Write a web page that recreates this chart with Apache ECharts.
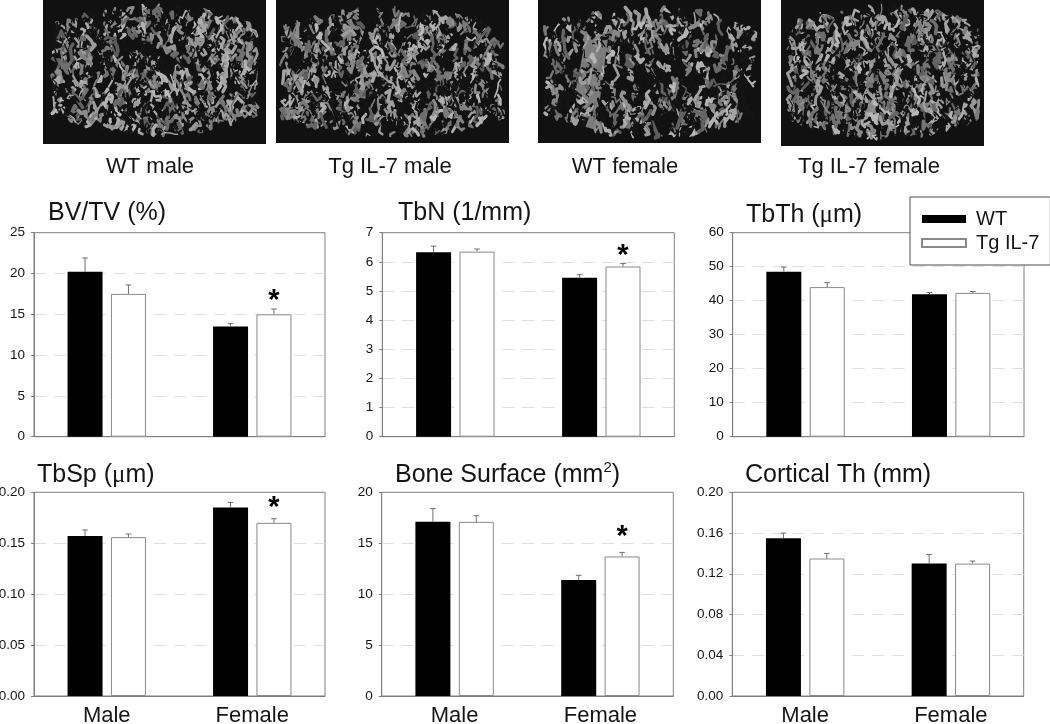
<!DOCTYPE html>
<html>
<head>
<meta charset="utf-8">
<style>html,body{margin:0;padding:0;background:#fff}#c{width:1050px;height:724px}</style>
<script src="https://cdn.jsdelivr.net/npm/echarts@6/dist/echarts.min.js"></script>
</head>
<body>
<div id="c"></div>
<script>
// ---- data ----
const categories = ['Male', 'Female'];
const seriesNames = ['WT', 'Tg IL-7'];

const bvtvWT = [20.2, 13.5],    bvtvWTErr = [21.9, 13.85];
const bvtvTg = [17.5, 15.0],    bvtvTgErr = [18.6, 15.65];
const tbnWT = [6.33, 5.45],     tbnWTErr = [6.54, 5.56];
const tbnTg = [6.35, 5.84],     tbnTgErr = [6.44, 5.94];
const tbthWT = [48.5, 41.9],    tbthWTErr = [49.9, 42.4];
const tbthTg = [44.0, 42.3],    tbthTgErr = [45.3, 42.7];
const tbspWT = [0.157, 0.185],  tbspWTErr = [0.163, 0.190];
const tbspTg = [0.156, 0.170],  tbspTgErr = [0.159, 0.174];
const bsWT = [17.1, 11.4],      bsWTErr = [18.4, 11.85];
const bsTg = [17.1, 13.7],      bsTgErr = [17.7, 14.1];
const ctWT = [0.155, 0.130],    ctWTErr = [0.160, 0.139];
const ctTg = [0.135, 0.130],    ctTgErr = [0.140, 0.1325];

const panelTitles = ['BV/TV (%)', 'TbN (1/mm)', 'TbTh ({mu|\u03bc}m)', 'TbSp ({mu|\u03bc}m)', 'Bone Surface (mm{sup|2})', 'Cortical Th (mm)'];
const photoLabels = ['WT male', 'Tg IL-7 male', 'WT female', 'Tg IL-7 female'];

const panels = [
  {title: panelTitles[0], wt: bvtvWT, wtE: bvtvWTErr, tg: bvtvTg, tgE: bvtvTgErr, max: 25, step: 5, dec: 0, star: 17.1, box: [34, 232.7, 291, 204], tx: 48, ty: 213},
  {title: panelTitles[1], wt: tbnWT, wtE: tbnWTErr, tg: tbnTg, tgE: tbnTgErr, max: 7, step: 1, dec: 0, star: 6.35, box: [382.3, 232.7, 292, 204], tx: 398, ty: 213},
  {title: panelTitles[2], wt: tbthWT, wtE: tbthWTErr, tg: tbthTg, tgE: tbthTgErr, max: 60, step: 10, dec: 0, star: null, box: [732.7, 232.7, 291.3, 204], tx: 746, ty: 215},
  {title: panelTitles[3], wt: tbspWT, wtE: tbspWTErr, tg: tbspTg, tgE: tbspTgErr, max: 0.2, step: 0.05, dec: 2, star: 0.1885, box: [34, 492.3, 291, 203.7], tx: 37, ty: 475},
  {title: panelTitles[4], wt: bsWT, wtE: bsWTErr, tg: bsTg, tgE: bsTgErr, max: 20, step: 5, dec: 0, star: 16.0, box: [381.7, 492.3, 291.6, 203.7], tx: 395, ty: 475},
  {title: panelTitles[5], wt: ctWT, wtE: ctWTErr, tg: ctTg, tgE: ctTgErr, max: 0.2, step: 0.04, dec: 2, star: null, box: [732.3, 492.3, 291.4, 203.7], tx: 745, ty: 475}
];

// ---- layout / style ----
const FONT = '"Liberation Sans", Arial, sans-serif';
const BAR_W = 35, BAR_SHIFT = 21.7;
const AXIS = '#7f7f7f', TXT = '#151515';

// illustrative micro-CT picture: a stand-in for the photographs of the source
function boneTexture(w, h, blob, seed) {
  const cv = document.createElement('canvas');
  cv.width = w; cv.height = h;
  const g = cv.getContext('2d');
  g.fillStyle = '#111111'; g.fillRect(0, 0, w, h);
  let s = seed;
  const rnd = () => (s = (s * 1664525 + 1013904223) % 4294967296) / 4294967296;
  g.lineCap = 'round'; g.lineJoin = 'round';
  // barrel outline: nearly straight sides, arched top and bottom
  const inside = (x, y) => {
    const dx = Math.abs(x - blob.cx) / blob.rx;
    const edge = blob.ry * (1 - 0.3 * dx * dx);
    return dx < 1 && Math.abs(y - blob.cy) < edge;
  };
  if (blob.slab) {
    const sl = blob.slab;
    g.fillStyle = '#7d7d7d';
    g.beginPath(); g.moveTo(sl[0] + 14, sl[1]); g.lineTo(sl[0] + sl[2] + 6, sl[1] + 2);
    g.lineTo(sl[0] + sl[2] - 6, sl[1] + sl[3]); g.lineTo(sl[0] - 2, sl[1] + sl[3] - 8); g.closePath(); g.fill();
  }
  const total = blob.sparse ? 800 : 1150;
  for (let i = 0; i < total; i++) {
    let x = blob.cx + (rnd() * 2 - 1) * blob.rx, y = blob.cy + (rnd() * 2 - 1) * blob.ry;
    if (!inside(x, y)) continue;
    const v = rnd();
    const dark = v < 0.5;
    const shade = dark ? 20 : Math.round(90 + rnd() * 95);
    g.strokeStyle = 'rgb(' + shade + ',' + shade + ',' + shade + ')';
    g.lineWidth = dark ? 1 + rnd() * 2 : 1.2 + rnd() * 2.6;
    g.beginPath(); g.moveTo(x, y);
    const n = 3 + Math.floor(rnd() * 3);
    for (let k = 0; k < n; k++) {
      x += (rnd() - 0.5) * 9; y += (rnd() - 0.4) * 13;
      if (!inside(x, y)) break;
      g.lineTo(x, y);
    }
    g.stroke();
  }
  g.filter = 'blur(0.5px)';
  g.drawImage(cv, 0, 0);
  g.filter = 'none';
  return cv;
}

const photos = [
  {x: 43, w: 223, h: 144, cx: 112, cy: 70, rx: 103, ry: 66, seed: 11, lx: 150},
  {x: 276, w: 233, h: 143, cx: 116, cy: 72, rx: 112, ry: 66, seed: 23, lx: 390},
  {x: 538, w: 223, h: 143, cx: 112, cy: 72, rx: 106, ry: 66, seed: 37, lx: 625, slab: [34, 36, 30, 94], sparse: true},
  {x: 781, w: 203, h: 146, cx: 102, cy: 72, rx: 96, ry: 68, seed: 53, lx: 869}
];

const graphics = [];
photos.forEach((p, i) => {
  graphics.push({type: 'image', x: p.x, y: 0, silent: true,
    style: {image: boneTexture(p.w, p.h, p, p.seed), x: 0, y: 0, width: p.w, height: p.h}});
  graphics.push({type: 'text', x: p.lx, y: 167, silent: true,
    style: {text: photoLabels[i], font: '22px ' + FONT, fill: TXT, textAlign: 'center', textVerticalAlign: 'middle'}});
});

function errorSeries(idx, mean, tops, shift, cap) {
  return {
    type: 'custom', xAxisIndex: idx, yAxisIndex: idx, silent: true, z: 3,
    data: tops.map((t, i) => [i, t, mean[i]]),
    renderItem(params, api) {
      const top = api.coord([api.value(0), api.value(1)]);
      const base = api.coord([api.value(0), api.value(2)]);
      const x = top[0] + shift;
      const st = {stroke: '#6e6e6e', lineWidth: 1, fill: null};
      return {type: 'group', children: [
        {type: 'line', shape: {x1: x, y1: base[1], x2: x, y2: top[1]}, style: st},
        {type: 'line', shape: {x1: x - cap, y1: top[1], x2: x + cap, y2: top[1]}, style: st}
      ]};
    }
  };
}

const grid = [], xAxis = [], yAxis = [], series = [], title = [];
panels.forEach((p, i) => {
  title.push({text: p.title, left: p.tx, top: p.ty - 15, padding: 0,
    textStyle: {fontFamily: FONT, fontSize: 25, fontWeight: 'normal', color: TXT, lineHeight: 30,
      rich: {
        mu: {fontFamily: '"Liberation Serif", serif', fontSize: 25, color: TXT, lineHeight: 30},
        sup: {fontFamily: FONT, fontSize: 15, color: TXT, verticalAlign: 'top', lineHeight: 30}
      }}});
  grid.push({show: true, left: p.box[0], top: p.box[1], width: p.box[2], height: p.box[3],
    borderColor: AXIS, borderWidth: 1, backgroundColor: 'transparent', containLabel: false,
    outerBoundsMode: 'none'});
  xAxis.push({type: 'category', gridIndex: i, data: categories,
    axisLine: {lineStyle: {color: AXIS}},
    axisTick: {alignWithLabel: true, length: 3, lineStyle: {color: AXIS}},
    axisLabel: {show: i >= 3, fontFamily: FONT, fontSize: 22, color: TXT, margin: 9, interval: 0},
    splitLine: {show: false}});
  yAxis.push({type: 'value', gridIndex: i, min: 0, max: p.max, interval: p.step,
    axisLine: {show: true, lineStyle: {color: AXIS}},
    axisTick: {show: true, length: 3, lineStyle: {color: AXIS}},
    axisLabel: {fontFamily: FONT, fontSize: 13.5, color: TXT, margin: 9,
      formatter: v => v.toFixed(p.dec)},
    splitLine: {show: true, showMinLine: false, showMaxLine: false, lineStyle: {color: '#dedede', type: [12, 8], width: 1}}});
  series.push({name: seriesNames[0], type: 'bar', xAxisIndex: i, yAxisIndex: i, data: p.wt,
    barWidth: BAR_W, barGap: '24%', silent: true,
    itemStyle: {color: '#000', borderColor: '#000', borderWidth: 0}});
  series.push({name: seriesNames[1], type: 'bar', xAxisIndex: i, yAxisIndex: i, data: p.tg,
    barWidth: BAR_W, barGap: '24%', silent: true,
    itemStyle: {color: '#fff', borderColor: '#8a8a8a', borderWidth: 1}});
  series.push(errorSeries(i, p.wt, p.wtE, -BAR_SHIFT, 2.8));
  series.push(errorSeries(i, p.tg, p.tgE, BAR_SHIFT, 2.8));
  if (p.star !== null) {
    series.push({type: 'custom', xAxisIndex: i, yAxisIndex: i, silent: true, z: 4,
      data: [[1, p.star]],
      renderItem(params, api) {
        const c = api.coord([api.value(0), api.value(1)]);
        return {type: 'text', x: c[0] + BAR_SHIFT, y: c[1] + 4,
          style: {text: '*', font: 'bold 29px ' + FONT, fill: '#000', textAlign: 'center', textVerticalAlign: 'middle'}};
      }});
  }
});

const chart = echarts.init(document.getElementById('c'), null, {renderer: 'canvas'});
chart.setOption({
  animation: false,
  backgroundColor: '#fff',
  title, grid, xAxis, yAxis, series,
  graphic: graphics,
  legend: {
    show: true, left: 910, top: 197, orient: 'vertical', selectedMode: false,
    data: seriesNames, icon: 'rect', itemWidth: 44, itemHeight: 8, itemGap: 4,
    padding: [12, 11, 12, 11], backgroundColor: '#fff', borderColor: '#4d4d4d', borderWidth: 1,
    textStyle: {fontFamily: FONT, fontSize: 20, color: TXT, padding: [0, 0, 0, 5], lineHeight: 20}
  }
});
</script>
</body>
</html>
